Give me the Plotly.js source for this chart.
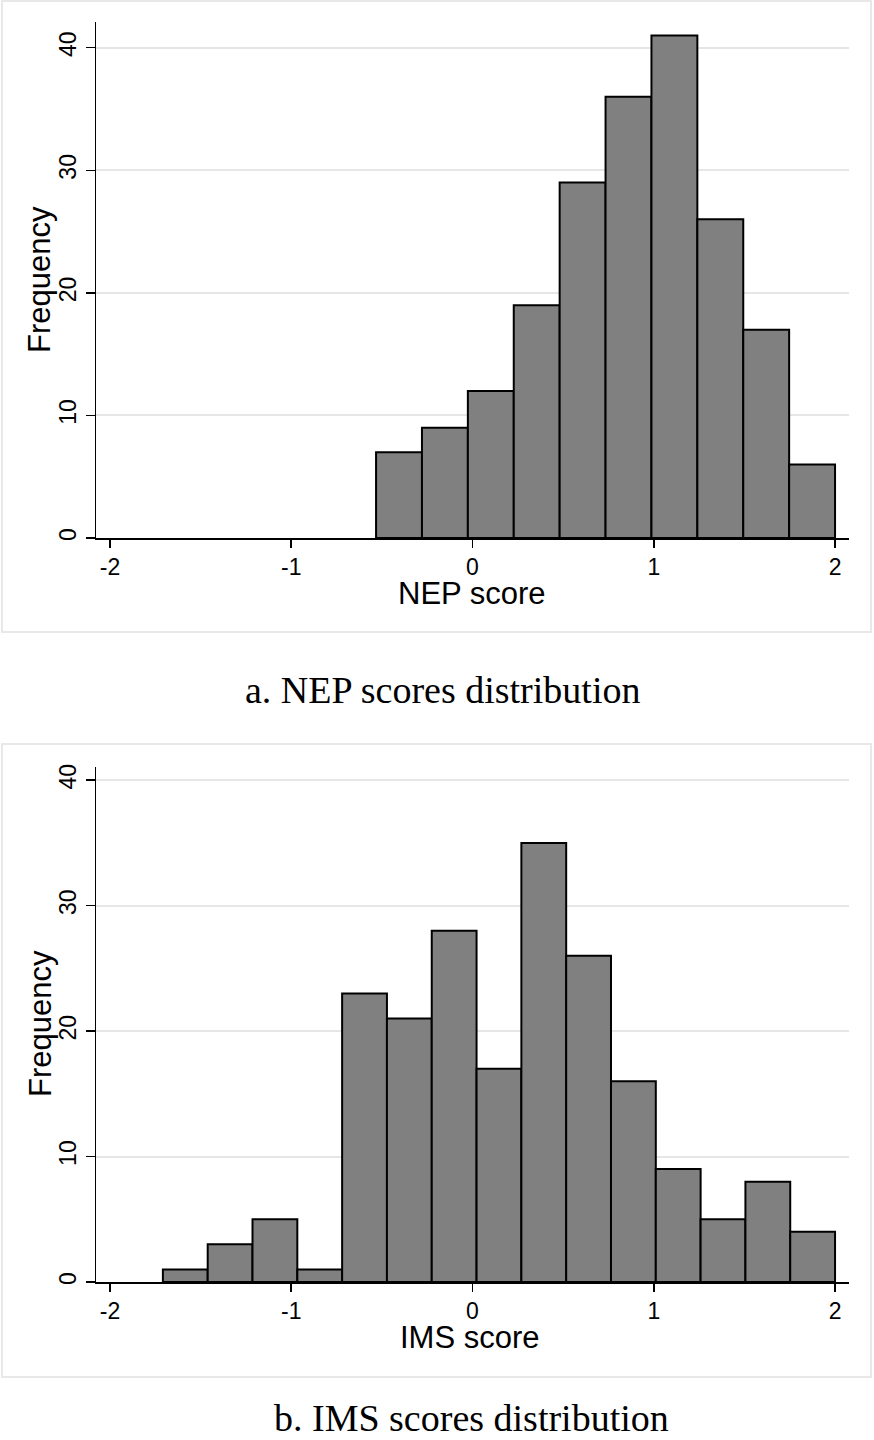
<!DOCTYPE html>
<html>
<head>
<meta charset="utf-8">
<script src="https://cdn.plot.ly/plotly-3.0.1.min.js"></script>
<style>html,body{margin:0;padding:0;background:#fff;}#chart{width:874px;height:1440px;}</style>
</head>
<body>
<div id="chart"></div>
<script>
// Panel a: NEP score histogram
const nepBinStart = -0.532;
const nepBinWidth = 0.2532;
const nepCounts = [7, 9, 12, 19, 29, 36, 41, 26, 17, 6];

// Panel b: IMS score histogram
const imsBinStart = -1.708;
const imsBinWidth = 0.2472;
const imsCounts = [1, 3, 5, 1, 23, 21, 28, 17, 35, 26, 16, 9, 5, 8, 4];

const xTickVals = [-2, -1, 0, 1, 2];
const yTickVals = [0, 10, 20, 30, 40];

const captions = ["a. NEP scores distribution", "b. IMS scores distribution"];
const xTitles = ["NEP score", "IMS score"];
const yTitle = "Frequency";

function centers(start, w, n) {
  const c = [];
  for (let i = 0; i < n; i++) c.push(start + (i + 0.5) * w);
  return c;
}

const W = 874, H = 1440;
const px = v => v / W;
const py = v => 1 - v / H;

const barStyle = {color: '#808080', line: {color: '#000000', width: 2}};

const traces = [
  {type: 'bar', x: centers(nepBinStart, nepBinWidth, nepCounts.length), y: nepCounts,
   width: nepBinWidth, marker: barStyle, xaxis: 'x', yaxis: 'y', hoverinfo: 'x+y'},
  {type: 'bar', x: centers(imsBinStart, imsBinWidth, imsCounts.length), y: imsCounts,
   width: imsBinWidth, marker: barStyle, xaxis: 'x2', yaxis: 'y2', hoverinfo: 'x+y'}
];

const sans = 'Liberation Sans, Arial, sans-serif';
const serif = 'Liberation Serif, Times New Roman, serif';
const tickFont = {family: sans, size: 23, color: '#000'};
const titleFont = {family: sans, size: 31, color: '#000'};
const capFont = {family: serif, size: 38, color: '#000'};

function xAxis(anchor) {
  return {
    domain: [px(96), px(849)], anchor: anchor, range: [-2.077, 2.077],
    tickvals: xTickVals, ticktext: xTickVals.map(String), ticks: 'outside', ticklen: 8, tickwidth: 1.5, tickcolor: '#000',
    showline: true, linecolor: '#000', linewidth: 1.5, showgrid: false, zeroline: false,
    tickfont: tickFont
  };
}
function yAxis(top, bottom, anchor, rmax) {
  return {
    domain: [py(bottom), py(top)], anchor: anchor, range: [0, rmax],
    tickvals: yTickVals, ticktext: yTickVals.map(String), ticks: 'outside', ticklen: 9, tickwidth: 1.5, tickcolor: '#000',
    tickangle: -90, showline: true, linecolor: '#000', linewidth: 1.5,
    showgrid: true, gridcolor: '#e6e6e6', gridwidth: 2, zeroline: false,
    tickfont: tickFont
  };
}

function ann(text, x, y, font, extra) {
  return Object.assign({text: text, xref: 'paper', yref: 'paper', x: px(x), y: py(y), showarrow: false,
    xanchor: 'center', yanchor: 'middle', font: font, borderpad: 0}, extra || {});
}

const layout = {
  width: W, height: H, margin: {l: 0, r: 0, t: 0, b: 0},
  paper_bgcolor: '#fff', plot_bgcolor: '#fff', showlegend: false, bargap: 0,
  xaxis: xAxis('y'),
  yaxis: yAxis(22, 538, 'x', 42.1),
  xaxis2: xAxis('y2'),
  yaxis2: yAxis(767, 1282, 'x2', 41.05),
  shapes: [
    {type: 'rect', xref: 'paper', yref: 'paper', x0: px(2), x1: px(871), y0: py(632), y1: py(1),
     line: {color: '#e8e8e8', width: 2}, layer: 'below'},
    {type: 'rect', xref: 'paper', yref: 'paper', x0: px(2), x1: px(871), y0: py(1377), y1: py(744),
     line: {color: '#e8e8e8', width: 2}, layer: 'below'}
  ],
  annotations: [
    ann(xTitles[0], 472, 593, titleFont),
    ann(xTitles[1], 470, 1337, titleFont),
    ann(yTitle, 40, 280, titleFont, {textangle: -90}),
    ann(yTitle, 40, 1024, titleFont, {textangle: -90}),
    ann(captions[0], 442, 690, capFont),
    {text: captions[1], xref: 'paper', yref: 'paper', x: px(471), y: 0, showarrow: false,
     xanchor: 'center', yanchor: 'bottom', font: capFont, borderpad: 0}
  ]
};

Plotly.newPlot('chart', traces, layout, {displayModeBar: false, staticPlot: true});
</script>
</body>
</html>
